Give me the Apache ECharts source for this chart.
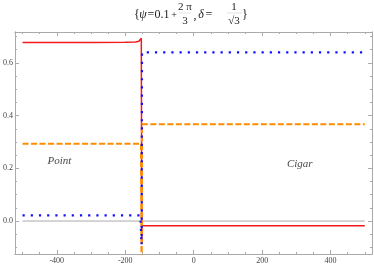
<!DOCTYPE html>
<html><head><meta charset="utf-8">
<script src="https://cdn.jsdelivr.net/npm/echarts@6/dist/echarts.min.js"></script>
<style>html,body{margin:0;padding:0;background:#fff}#c{width:374px;height:265px}</style>
</head><body><div id="c"></div>
<script>
// Data
const redCurve = [[-500,0.677],[-300,0.677],[-200,0.678],[-170,0.679],[-160,0.682],[-155,0.688],[-153,0.693],[-152,0.69],[-151.5,-0.087],[-151,-0.018],[-145,-0.018],[0,-0.018],[500,-0.018]];
const blueCurve = [[-500,0.0215],[-156,0.0215],[-152,-0.09],[-151,0.64],[-140,0.64],[500,0.64]];
const orangeCurve = [[-500,0.293],[-154,0.293],[-152,-0.3],[-151,0.367],[-140,0.367],[500,0.367]];
const zeroLine = [[-500,0],[500,0]];
const xMajor = [-400,-200,0,200,400];
const xMinor = [-500,-450,-350,-300,-250,-150,-100,-50,50,100,150,250,300,350,450,500];
const yMajor = [0.0,0.2,0.4,0.6];
const yMinor = [-0.1,-0.05,0.05,0.1,0.15,0.25,0.3,0.35,0.45,0.5,0.55,0.65,0.7];
const annotations = [{name:'Point', value:[-392,0.226]},{name:'Cigar', value:[310,0.215]}];

const chart = echarts.init(document.getElementById('c'), null, {renderer:'canvas'});
const XMIN=-522, XMAX=521, YMIN=-0.125, YMAX=0.717;
const serif = 'Liberation Serif';
const fmtY = v => v.toFixed(1);
function xAx(pos, vals, len, labels){
  return {type:'value', min:XMIN, max:XMAX, position:pos,
    axisLine:{show:true, onZero:false, lineStyle:{color:'#aaa',width:1}},
    axisTick:{show:true, inside:true, length:len, customValues:vals, lineStyle:{color:'#aaa'}},
    axisLabel:{show:labels, customValues:vals, fontFamily:serif, fontSize:8, color:'#444', margin:3},
    splitLine:{show:false}};
}
function yAx(pos, vals, len, labels){
  return {type:'value', min:YMIN, max:YMAX, position:pos,
    axisLine:{show:true, onZero:false, lineStyle:{color:'#aaa',width:1}},
    axisTick:{show:true, inside:true, length:len, customValues:vals, lineStyle:{color:'#aaa'}},
    axisLabel:{show:labels, customValues:vals, formatter:fmtY, fontFamily:serif, fontSize:8, color:'#444', margin:2},
    splitLine:{show:false}};
}
const titleY = 15;
const tStyle = (t,x,y,size,italic) => ({type:'text', x:x, y:y, style:{text:t, fill:'#222', font:(italic?'italic ':'')+(size||12)+'px "'+serif+'"', align:'center', verticalAlign:'middle'}});
chart.setOption({
  animation:false,
  grid:{left:10, right:2, top:32, bottom:10, containLabel:false},
  xAxis:[xAx('bottom',xMajor,4,true), xAx('bottom',xMinor,2,false), xAx('top',xMajor,4,false), xAx('top',xMinor,2,false)],
  yAxis:[yAx('left',yMajor,4,true), yAx('left',yMinor,2,false), yAx('right',yMajor,4,false), yAx('right',yMinor,2,false)],
  graphic:[
    tStyle('{',137,titleY,12),
    tStyle('ψ',143,titleY,12,true),
    tStyle('=',151,titleY,12),
    tStyle('0.1',162,titleY,12),
    tStyle('+',174,titleY,10),
    tStyle('2 π',185,7,11),
    {type:'line', shape:{x1:179,y1:13,x2:191,y2:13}, style:{stroke:'#ccc',lineWidth:0.6}},
    tStyle('3',185,21,11),
    tStyle(',',195,titleY+1,12),
    tStyle('δ',201,titleY,12,true),
    tStyle('=',209,titleY,12),
    tStyle('1',234,7,11),
    {type:'line', shape:{x1:227,y1:13,x2:242,y2:13}, style:{stroke:'#ccc',lineWidth:0.6}},
    tStyle('√3',234,21,11),
    tStyle('}',245,titleY,12)
  ],
  series:[
    {type:'line', data:zeroLine, showSymbol:false, lineStyle:{color:'#aaa', width:1}, silent:true},
    {type:'line', data:redCurve, showSymbol:false, lineStyle:{color:'#f21a1a', width:1.5}},
    {type:'line', data:orangeCurve, showSymbol:false, lineStyle:{color:'#ff8c00', width:2, type:[6,2.5]}},
    {type:'line', data:blueCurve, showSymbol:false, lineStyle:{color:'#1010ff', width:2.2, type:[2.2,6]}},
    {type:'scatter', data:annotations, symbolSize:0,
      label:{show:true, formatter:p=>p.name, position:'inside', fontFamily:serif, fontStyle:'italic', fontSize:11, color:'#111'}}
  ]
});
</script></body></html>
